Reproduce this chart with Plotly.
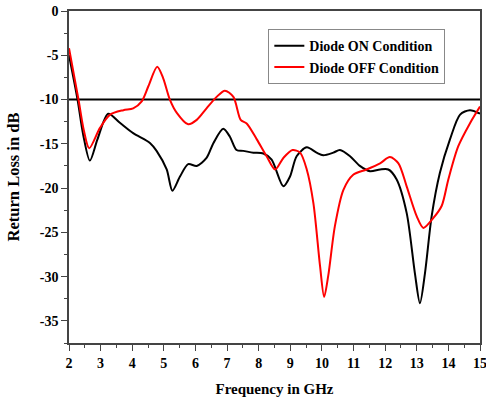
import plotly.graph_objects as go

on_x = [2.0, 2.27, 2.45, 2.66, 2.9, 3.24, 3.6, 4.03, 4.56, 4.77, 5.09, 5.27, 5.51, 5.77, 6.04, 6.35, 6.57, 6.88, 7.09, 7.30, 7.51, 7.83, 8.15, 8.41, 8.78, 8.99, 9.20, 9.52, 9.83, 10.04, 10.36, 10.57, 10.89, 11.2, 11.52, 11.84, 12.1, 12.36, 12.68, 12.94, 13.10, 13.26, 13.47, 13.73, 14.05, 14.37, 14.68, 15.0]
on_y = [-5.0, -10.0, -14.0, -16.9, -14.5, -11.6, -12.6, -13.8, -14.9, -15.8, -17.9, -20.3, -18.7, -17.3, -17.5, -16.6, -14.9, -13.3, -14.2, -15.7, -15.8, -16.0, -16.1, -16.8, -19.8, -18.7, -16.4, -15.4, -16.0, -16.3, -16.0, -15.7, -16.4, -17.5, -18.1, -17.9, -17.9, -19.0, -22.8, -29.6, -33.0, -29.6, -23.2, -18.3, -14.5, -11.7, -11.2, -11.6]

off_x = [2.0, 2.30, 2.47, 2.64, 2.98, 3.30, 3.72, 4.03, 4.30, 4.51, 4.79, 4.98, 5.19, 5.41, 5.77, 6.04, 6.35, 6.67, 6.93, 7.20, 7.43, 7.62, 7.94, 8.25, 8.52, 8.78, 9.07, 9.31, 9.52, 9.73, 9.94, 10.07, 10.2, 10.41, 10.68, 10.99, 11.41, 11.84, 12.15, 12.42, 12.68, 13.0, 13.21, 13.52, 13.79, 14.0, 14.31, 14.68, 15.0]
off_y = [-4.2, -10.0, -13.5, -15.5, -13.2, -11.7, -11.2, -11.0, -10.2, -8.5, -6.3, -7.6, -10.0, -11.5, -12.8, -12.3, -11.0, -9.7, -9.0, -9.7, -12.3, -12.7, -14.5, -16.4, -17.9, -16.6, -15.7, -16.0, -17.9, -21.7, -28.8, -32.3, -29.9, -24.3, -20.2, -18.5, -17.9, -17.2, -16.5, -17.2, -19.8, -23.2, -24.5, -23.4, -22.0, -19.0, -15.3, -12.7, -10.8]

ref_x = [2, 15]
ref_y = [-10, -10]

x_tick_vals = [2, 3, 4, 5, 6, 7, 8, 9, 10, 11, 12, 13, 14, 15]
x_tick_text = ["2", "3", "4", "5", "6", "7", "8", "9", "10", "11", "12", "13", "14", "15"]
y_tick_vals = [0, -5, -10, -15, -20, -25, -30, -35]
y_tick_text = ["0", "-5", "-10", "-15", "-20", "-25", "-30", "-35"]

font_family = "Liberation Serif"

fig = go.Figure()
fig.add_trace(go.Scatter(x=ref_x, y=ref_y, mode="lines", line=dict(color="black", width=2),
                         showlegend=False, hoverinfo="skip"))
fig.add_trace(go.Scatter(x=on_x, y=on_y, mode="lines", name="<b>Diode ON Condition</b>",
                         line=dict(color="black", width=2, shape="spline", smoothing=0.8)))
fig.add_trace(go.Scatter(x=off_x, y=off_y, mode="lines", name="<b>Diode OFF Condition</b>",
                         line=dict(color="#ff0000", width=2, shape="spline", smoothing=0.8)))

axis_common = dict(showgrid=False, zeroline=False, showline=True, linecolor="#444444", linewidth=1.5,
                   mirror=True, ticks="outside", ticklen=6, tickwidth=1.2, tickcolor="#444444",
                   automargin=False, ticklabeloverflow="allow",
                   tickfont=dict(family=font_family, size=14, color="black"))

fig.update_xaxes(range=[2, 15], tickmode="array", tickvals=x_tick_vals,
                 ticktext=["<b>%s</b>" % t for t in x_tick_text],
                 minor=dict(dtick=0.5, tick0=2, ticks="outside", ticklen=3, tickcolor="#444444"),
                 title=dict(text="<b>Frequency in GHz</b>", font=dict(family=font_family, size=15, color="black"), standoff=14),
                 **axis_common)
fig.update_yaxes(range=[-37.5, 0], tickmode="array", tickvals=y_tick_vals,
                 ticktext=["<b>%s</b>" % t for t in y_tick_text],
                 minor=dict(dtick=2.5, tick0=0, ticks="outside", ticklen=3, tickcolor="#444444"),
                 title=dict(text="<b>Return Loss in dB</b>", font=dict(family=font_family, size=16.5, color="black"), standoff=16),
                 **axis_common)

fig.update_layout(
    width=486, height=400,
    margin=dict(l=69, r=6, t=11, b=57),
    plot_bgcolor="white", paper_bgcolor="white",
    font=dict(family=font_family, size=14, color="black"),
    legend=dict(x=0.485, y=0.945, xanchor="left", yanchor="top",
                bordercolor="#888888", borderwidth=1, bgcolor="white",
                font=dict(family=font_family, size=14, color="black"),
                tracegroupgap=0, itemwidth=30),
    showlegend=True,
)

fig.write_html("out.html", config={"displayModeBar": False},
               post_script="document.body.style.margin='0';")
